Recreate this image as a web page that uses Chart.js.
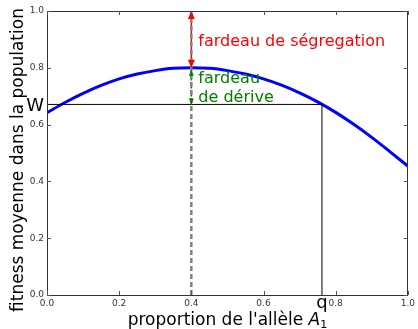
<!DOCTYPE html>
<html><head><meta charset="utf-8">
<script src="https://cdn.jsdelivr.net/npm/chart.js@4"></script>
<style>html,body{margin:0;padding:0;background:#fff}#c{display:block}</style>
</head><body>
<canvas id="c" width="418" height="329"></canvas>
<script>
const xValues = [0,0.05,0.1,0.15,0.2,0.25,0.3,0.35,0.4,0.45,0.5,0.55,0.6,0.65,0.7,0.75,0.8,0.85,0.9,0.95,1.0];
const fitness = [0.642,0.678,0.71,0.738,0.761,0.778,0.79,0.798,0.80,0.798,0.79,0.778,0.761,0.739,0.712,0.68,0.643,0.601,0.555,0.505,0.454];
const wMean = 0.671;
const qValue = 0.762;
const pOpt = 0.4;
const wMax = 0.8;
const wTop = 1.0;
const xTicks = [0,0.2,0.4,0.6,0.8,1.0];
const yTicks = [0,0.2,0.4,0.6,0.8,1.0];
const labels = {
  y: "fitness moyenne dans la population",
  x: "proportion de l'allèle ",
  seg: "fardeau de ségregation",
  der1: "fardeau",
  der2: "de dérive",
  W: "W",
  q: "q"
};

const FONT = "'DejaVu Sans', sans-serif";

const overlay = {
  id: 'overlay',
  afterDatasetsDraw(chart) {
    const ctx = chart.ctx, xs = chart.scales.x, ys = chart.scales.y, a = chart.chartArea;
    ctx.save();
    function head(x, y, dir, size, w, color) {
      ctx.fillStyle = color;
      ctx.beginPath();
      ctx.moveTo(x, y);
      ctx.lineTo(x - w, y - dir * size);
      ctx.lineTo(x + w, y - dir * size);
      ctx.closePath();
      ctx.fill();
    }
    const px = xs.getPixelForValue(pOpt);
    head(px, ys.getPixelForValue(wTop), -1, 8, 3.5, '#ff0000');
    head(px, ys.getPixelForValue(wMax), 1, 8, 3.5, '#ff0000');
    head(px, ys.getPixelForValue(wMax) + 2, -1, 6, 2.5, '#008000');
    head(px, ys.getPixelForValue(wMean), 1, 6, 2.5, '#008000');

    ctx.strokeStyle = '#333';
    ctx.lineWidth = 1;
    ctx.strokeRect(Math.round(a.left) + 0.5, Math.round(a.top) + 0.5, Math.round(a.right - a.left) - 1, Math.round(a.bottom - a.top));
    ctx.strokeStyle = '#555';
    xTicks.forEach(v => {
      const x = Math.round(xs.getPixelForValue(v)) + 0.5;
      ctx.beginPath();
      ctx.moveTo(x, a.bottom); ctx.lineTo(x, a.bottom - 4);
      ctx.moveTo(x, a.top); ctx.lineTo(x, a.top + 4);
      ctx.stroke();
    });
    yTicks.forEach(v => {
      const y = Math.round(ys.getPixelForValue(v)) + 0.5;
      ctx.beginPath();
      ctx.moveTo(a.left, y); ctx.lineTo(a.left + 4, y);
      ctx.moveTo(a.right, y); ctx.lineTo(a.right - 4, y);
      ctx.stroke();
    });

    ctx.textBaseline = 'alphabetic';
    ctx.textAlign = 'left';
    ctx.font = '16px ' + FONT;
    ctx.fillStyle = '#ff0000';
    ctx.fillText(labels.seg, px + 7, 46);
    ctx.fillStyle = '#008000';
    ctx.fillText(labels.der1, px + 7, 83);
    ctx.fillText(labels.der2, px + 7, 102);

    ctx.fillStyle = '#000';
    ctx.font = '18px ' + FONT;
    ctx.textAlign = 'right';
    ctx.fillText(labels.W, a.left - 3, ys.getPixelForValue(wMean) + 7);
    ctx.textAlign = 'center';
    ctx.fillText(labels.q, xs.getPixelForValue(qValue), 308);

    ctx.font = '17px ' + FONT;
    ctx.textAlign = 'left';
    const w1 = ctx.measureText(labels.x).width;
    ctx.font = 'italic 17px ' + FONT;
    const wA = ctx.measureText('A').width;
    ctx.font = '11px ' + FONT;
    const w2 = ctx.measureText('1').width;
    const total = w1 + wA + w2;
    let sx = (a.left + a.right) / 2 - total / 2;
    ctx.font = '17px ' + FONT;
    ctx.fillText(labels.x, sx, 325);
    ctx.font = 'italic 17px ' + FONT;
    ctx.fillText('A', sx + w1, 325);
    ctx.font = '11px ' + FONT;
    ctx.fillText('1', sx + w1 + wA, 328);

    ctx.save();
    ctx.translate(23, (a.top + a.bottom) / 2 + 7);
    ctx.rotate(-Math.PI / 2);
    ctx.font = '17px ' + FONT;
    ctx.textAlign = 'center';
    ctx.fillText(labels.y, 0, 0);
    ctx.restore();
    ctx.restore();
  }
};

new Chart(document.getElementById('c'), {
  type: 'scatter',
  data: {
    datasets: [
      { data: [{x: pOpt, y: 0}, {x: pOpt, y: wTop}], showLine: true, borderColor: '#808080', borderWidth: 2.5, borderDash: [5, 3], pointRadius: 0 },
      { data: [{x: pOpt, y: wMax}, {x: pOpt, y: wTop}], showLine: true, borderColor: '#ff0000', borderWidth: 1.5, borderDash: [5, 3], pointRadius: 0 },
      { data: [{x: pOpt, y: wMean}, {x: pOpt, y: wMax}], showLine: true, borderColor: '#008000', borderWidth: 1.5, borderDash: [5, 3], pointRadius: 0 },
      { data: [{x: 0, y: wMean}, {x: qValue, y: wMean}], showLine: true, borderColor: '#000', borderWidth: 1, pointRadius: 0 },
      { data: [{x: qValue, y: 0}, {x: qValue, y: wMean}], showLine: true, borderColor: '#000', borderWidth: 1, pointRadius: 0 },
      { data: xValues.map((x, i) => ({x, y: fitness[i]})), showLine: true, borderColor: '#0000ff', borderWidth: 3, pointRadius: 0, cubicInterpolationMode: 'monotone' }
    ]
  },
  options: {
    responsive: false,
    animation: false,
    layout: { padding: { top: 11, right: 8, left: 0, bottom: 0 } },
    plugins: { legend: { display: false }, tooltip: { enabled: false } },
    scales: {
      x: {
        type: 'linear', min: 0, max: 1,
        afterBuildTicks(s) { s.ticks = xTicks.map(v => ({value: v})); },
        afterFit(s) { s.height = 34; },
        grid: { display: false, drawTicks: false },
        border: { display: false },
        ticks: { padding: 3, color: '#333', font: { family: FONT, size: 9 }, callback: v => Number(v).toFixed(1), maxRotation: 0, autoSkip: false }
      },
      y: {
        type: 'linear', min: 0, max: 1,
        afterBuildTicks(s) { s.ticks = yTicks.map(v => ({value: v})); },
        afterFit(s) { s.width = 47; },
        grid: { display: false, drawTicks: false },
        border: { display: false },
        ticks: { padding: 3, color: '#333', font: { family: FONT, size: 9 }, callback: v => Number(v).toFixed(1) }
      }
    }
  },
  plugins: [overlay]
});
</script>
</body></html>
